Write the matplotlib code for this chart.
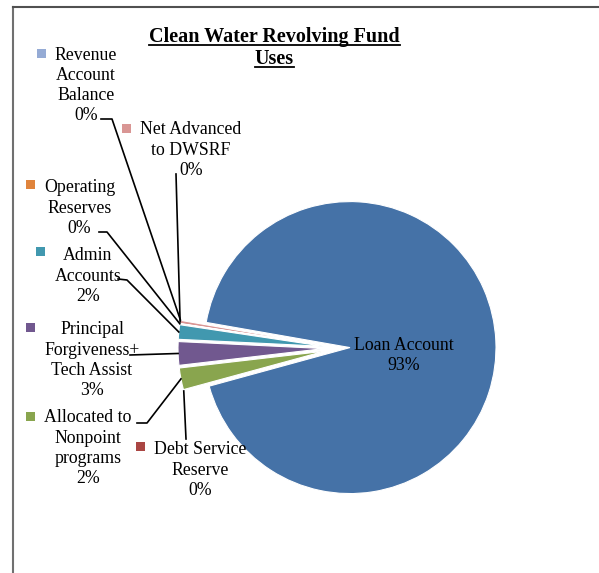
import matplotlib
matplotlib.use("Agg")
import matplotlib.pyplot as plt
from matplotlib.lines import Line2D
from matplotlib.patches import Rectangle
import numpy as np

# ---- data ----
categories = ["Loan Account",
              "Revenue\nAccount\nBalance",
              "Net Advanced\nto DWSRF",
              "Operating\nReserves",
              "Admin\nAccounts",
              "Principal\nForgiveness+\nTech Assist",
              "Allocated to\nNonpoint\nprograms",
              "Debt Service\nReserve"]
values = [92.95, 0.02, 0.35, 0.02, 1.6, 2.6, 2.4, 0.02]
colors = ["#4572A7", "#95ABD5", "#D99694", "#E0843C",
          "#4198AF", "#71588F", "#89A54E", "#AA4643"]
title_lines = ["Clean Water Revolving Fund", "Uses"]

# ---- figure in pixel coordinates ----
W, H = 599, 573
fig = plt.figure(figsize=(W / 100, H / 100), dpi=100)
ax = fig.add_axes([0, 0, 1, 1])


def Y(py):
    return H - py


FONT = "Liberation Serif"
FS = 12.8

total = sum(values)
loan_mid = 2.7
start = loan_mid - 180.0 * values[0] / total
explode = [9] + [17] * (len(values) - 1)
wedges, _ = ax.pie(values, colors=colors, startangle=start, counterclock=True,
                   explode=explode, radius=146, center=(341, Y(348)),
                   wedgeprops=dict(edgecolor="white", linewidth=0.8))
ax.set_xlim(0, W)
ax.set_ylim(0, H)
ax.set_aspect("equal")
ax.axis("off")

# border (left and top)
ax.add_line(Line2D([13, 13], [Y(7), Y(573)], color="#707070", lw=1.5))
ax.add_line(Line2D([13, 599], [Y(7), Y(7)], color="#505050", lw=1.5))

# title (bold, underlined)
fig.canvas.draw()
renderer = fig.canvas.get_renderer()
for line, base in zip(title_lines, [42, 64]):
    t = ax.text(274.5, Y(base), line, ha="center", va="baseline",
                fontsize=14.5, fontweight="bold", family=FONT)
    bb = t.get_window_extent(renderer=renderer)
    ax.add_line(Line2D([bb.x0, bb.x1], [Y(base + 2.5), Y(base + 2.5)],
                       color="black", lw=1.3))

# label layout: text center x, first line center y, legend key, leader start points
layout = {
    1: dict(cx=86, y0=54, key=(37, 49), lead=[(101, 119), (112, 119)]),
    2: dict(cx=191, y0=129, key=(122, 124), lead=[(176, 174)]),
    3: dict(cx=79.5, y0=187, key=(26, 180), lead=[(99, 232), (107, 232)]),
    4: dict(cx=88, y0=255, key=(36, 247), lead=[(118, 279), (127, 280)]),
    5: dict(cx=92, y0=329, key=(26, 323), lead=[(130, 355)]),
    6: dict(cx=88, y0=417, key=(26, 412), lead=[(137, 423), (147, 423)]),
    7: dict(cx=200.5, y0=449, key=(136, 442), lead=[(186, 439)]),
}
PITCH = 20.3

for i, name in enumerate(categories):
    pct = f"{round(values[i] / total * 100):.0f}%"
    lines = name.split("\n") + [pct]
    if i == 0:
        for k, ln in enumerate(lines):
            ax.text(403.5, Y(344 + k * 21 + 5.5), ln, ha="center", va="baseline",
                    fontsize=FS, family=FONT, color="black")
        continue
    L = layout[i]
    for k, ln in enumerate(lines):
        ax.text(L["cx"], Y(L["y0"] + k * PITCH + 5.5), ln, ha="center",
                va="baseline", fontsize=FS, family=FONT, color="black")
    kx, ky = L["key"]
    ax.add_patch(Rectangle((kx, Y(ky + 9)), 9, 9, facecolor=colors[i],
                           edgecolor="none"))
    w = wedges[i]
    th = np.deg2rad(0.5 * (w.theta1 + w.theta2))
    ex = w.center[0] + w.r * np.cos(th)
    ey = w.center[1] + w.r * np.sin(th)
    xs = [p[0] for p in L["lead"]] + [ex]
    ys = [Y(p[1]) for p in L["lead"]] + [ey]
    ax.add_line(Line2D(xs, ys, color="black", lw=1.2))

fig.savefig("out.png", dpi=100)
